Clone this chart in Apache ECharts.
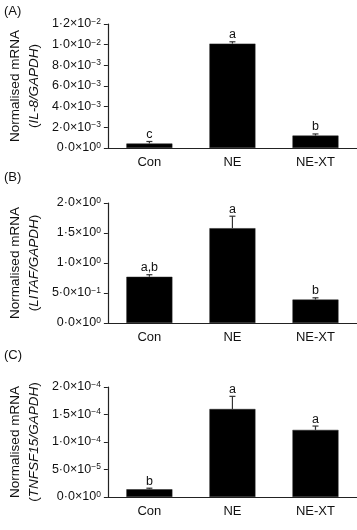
<!DOCTYPE html>
<html><head><meta charset="utf-8">
<script src="https://cdn.jsdelivr.net/npm/echarts@6/dist/echarts.min.js"></script>
<style>html,body{margin:0;padding:0;background:#fff;}#c{width:357px;height:530px;}</style>
</head><body><div id="c"></div>
<script>
// ---- data ----
const categories = ['Con', 'NE', 'NE-XT'];

const meanA = [0.00043, 0.0101, 0.0012];
const errA = [0.0002, 0.00018, 0.00016];
const letterA = ['c', 'a', 'b'];
const ticksA = ['0·0×10^0', '2·0×10^−3', '4·0×10^−3', '6·0×10^−3', '8·0×10^−3', '1·0×10^−2', '1·2×10^−2'];

const meanB = [0.77, 1.58, 0.39];
const errB = [0.035, 0.2, 0.03];
const letterB = ['a,b', 'a', 'b'];
const ticksB = ['0·0×10^0', '5·0×10^−1', '1·0×10^0', '1·5×10^0', '2·0×10^0'];

const meanC = [0.000014, 0.00016, 0.000122];
const errC = [0.000002, 0.000023, 0.000007];
const letterC = ['b', 'a', 'a'];
const ticksC = ['0·0×10^0', '5·0×10^−5', '1·0×10^−4', '1·5×10^−4', '2·0×10^−4'];

const FONT = 'Liberation Sans';
const panels = [
  {label: '(A)', gene: 'IL-8/', gene2: 'GAPDH', mean: meanA, err: errA, letters: letterA, ticks: ticksA, max: 0.012, interval: 0.002, top: 24, height: 124, labelY: 12},
  {label: '(B)', gene: 'LITAF/', gene2: 'GAPDH', mean: meanB, err: errB, letters: letterB, ticks: ticksB, max: 2, interval: 0.5, top: 203, height: 120, labelY: 178},
  {label: '(C)', gene: 'TNFSF15/', gene2: 'GAPDH', mean: meanC, err: errC, letters: letterC, ticks: ticksC, max: 0.0002, interval: 0.00005, top: 387, height: 110, labelY: 356}
];

const grid = [], xAxis = [], yAxis = [], series = [], graphic = [];
panels.forEach((p, k) => {
  grid.push({left: 107, width: 264, top: p.top, height: p.height});
  xAxis.push({
    type: 'category', gridIndex: k, data: categories,
    axisLine: {lineStyle: {color: '#222', width: 1.2}},
    axisTick: {inside: true, length: 3, lineStyle: {color: '#222'}},
    axisLabel: {color: '#111', fontFamily: FONT, fontSize: 13, margin: 8}
  });
  yAxis.push({
    type: 'value', gridIndex: k, min: 0, max: p.max, interval: p.interval,
    splitLine: {show: false},
    axisLine: {show: true, lineStyle: {color: '#222', width: 1.2}},
    axisTick: {show: true, length: 4, lineStyle: {color: '#222'}},
    axisLabel: {
      margin: 7, color: '#111',
      formatter: (v) => {
        const t = p.ticks[Math.round(v / p.interval)] || '';
        const parts = t.split('^');
        return '{m|' + parts[0] + '}{s|' + parts[1] + '}';
      },
      rich: {
        m: {fontFamily: FONT, fontSize: 12.5, color: '#111', lineHeight: 14},
        s: {fontFamily: FONT, fontSize: 8.5, color: '#111', verticalAlign: 'top', lineHeight: 14, padding: [0, 0, 6, 0]}
      }
    },
    name: '{n|Normalised mRNA}\n{n|(}{i|' + p.gene + '}{i|' + p.gene2 + '}{n|)}',
    nameLocation: 'middle', nameRotate: 90, nameGap: 64,
    nameTextStyle: {
      rich: {
        n: {fontFamily: FONT, fontSize: 13.5, color: '#111', lineHeight: 19},
        i: {fontFamily: FONT, fontSize: 13.5, fontStyle: 'italic', color: '#111', lineHeight: 19}
      }
    }
  });
  series.push({
    type: 'bar', xAxisIndex: k, yAxisIndex: k, data: p.mean, barWidth: 46,
    itemStyle: {color: '#000', borderColor: '#222', borderWidth: 0.5}
  });
  series.push({
    type: 'custom', xAxisIndex: k, yAxisIndex: k, z: 5,
    data: p.mean.map((m, i) => [i, m, p.err[i]]),
    renderItem: (params, api) => {
      const x = api.value(0), m = api.value(1), e = api.value(2);
      const b = api.coord([x, m]);
      const t = api.coord([x, m + e]);
      const st = {stroke: '#333', lineWidth: 1.2};
      return {type: 'group', children: [
        {type: 'line', shape: {x1: b[0], y1: b[1], x2: t[0], y2: t[1]}, style: st},
        {type: 'line', shape: {x1: t[0] - 3, y1: t[1], x2: t[0] + 3, y2: t[1]}, style: st},
        {type: 'text', style: {text: p.letters[params.dataIndex], x: t[0], y: t[1] - 7,
          textAlign: 'center', textVerticalAlign: 'middle', font: '12.5px "' + FONT + '"', fill: '#111'}}
      ]};
    }
  });
  graphic.push({type: 'text', left: 4, top: p.labelY - 7,
    style: {text: p.label, font: '13px "' + FONT + '"', fill: '#111'}});
});

const chart = echarts.init(document.getElementById('c'), null, {renderer: 'canvas'});
chart.setOption({animation: false, backgroundColor: '#fff', grid, xAxis, yAxis, series, graphic});
</script></body></html>
